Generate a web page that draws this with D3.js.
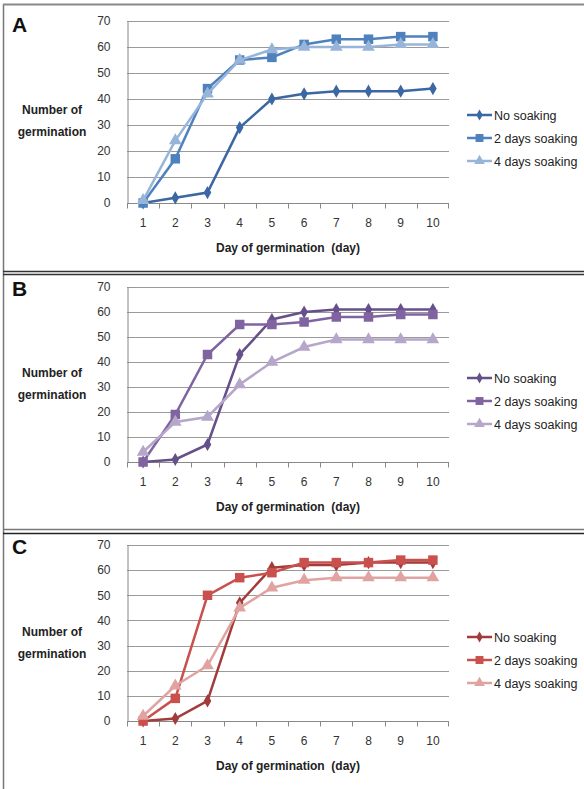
<!DOCTYPE html>
<html>
<head>
<meta charset="utf-8">
<script src="https://cdn.jsdelivr.net/npm/d3@7"></script>
<style>
  body { margin: 0; background: #fff; }
  svg { display: block; font-family: "Liberation Sans", Arial, sans-serif; }
</style>
</head>
<body>
<svg id="chart" width="584" height="789"></svg>
<script>
// days on the x axis
const days = [1, 2, 3, 4, 5, 6, 7, 8, 9, 10];
const seriesNames = ["No soaking", "2 days soaking", "4 days soaking"];
const yTicks = [0, 10, 20, 30, 40, 50, 60, 70];

// panel A
const aNoSoak = [0, 2, 4, 29, 40, 42, 43, 43, 43, 44];
const a2Days  = [0, 17, 44, 55, 56, 61, 63, 63, 64, 64];
const a4Days  = [1, 24, 42, 55, 59, 60, 60, 60, 61, 61];
// panel B
const bNoSoak = [0, 1, 7, 43, 57, 60, 61, 61, 61, 61];
const b2Days  = [0, 19, 43, 55, 55, 56, 58, 58, 59, 59];
const b4Days  = [4, 16, 18, 31, 40, 46, 49, 49, 49, 49];
// panel C
const cNoSoak = [0, 1, 8, 47, 61, 62, 62, 63, 63, 63];
const c2Days  = [0, 9, 50, 57, 59, 63, 63, 63, 64, 64];
const c4Days  = [2, 14, 22, 45, 53, 56, 57, 57, 57, 57];

let panels = [
    {label: "A", series: [aNoSoak, a2Days, a4Days], colors: ["#3b67a2", "#4f81bd", "#98b5d9"],
     top: 21, bottom: 203, legendY: 115},
    {label: "B", series: [bNoSoak, b2Days, b4Days], colors: ["#66508a", "#8064a2", "#b5a6ca"],
     top: 287, bottom: 462, legendY: 378},
    {label: "C", series: [cNoSoak, c2Days, c4Days], colors: ["#a33b3b", "#c9504d", "#e0a3a2"],
     top: 545, bottom: 721, legendY: 637}
];

let svg = d3.select("#chart");

// panel frames
svg.append("line").attr("x1", 3.5).attr("x2", 3.5).attr("y1", 4).attr("y2", 789)
    .attr("stroke", "#777").attr("stroke-width", 1.5);
svg.append("line").attr("x1", 3).attr("x2", 584).attr("y1", 4.5).attr("y2", 4.5)
    .attr("stroke", "#888").attr("stroke-width", 2);
[[271, "#333"], [274, "#333"], [529, "#777"], [533, "#222"]].forEach(([y, c]) => {
    svg.append("line").attr("x1", 3).attr("x2", 584).attr("y1", y + 0.5).attr("y2", y + 0.5)
        .attr("stroke", c).attr("stroke-width", 1.5);
});

let left = 127, right = 449;

panels.forEach((p) => {
    let g = svg.append("g");

    let x = d3.scaleBand().domain(days).range([left, right]);
    let y = d3.scaleLinear().domain([0, 70]).range([p.bottom, p.top]);

    // gridlines
    g.selectAll(".grid").data(yTicks.slice(1)).enter().append("line")
        .attr("x1", left).attr("x2", right)
        .attr("y1", (d) => Math.round(y(d)) + 0.5).attr("y2", (d) => Math.round(y(d)) + 0.5)
        .attr("stroke", "#9a9a9a").attr("stroke-width", 1);

    // y axis
    let yAxis = g.append("g")
        .attr("transform", "translate(" + (left + 0.5) + ",0)")
        .call(d3.axisLeft(y).tickValues(yTicks).tickSize(0).tickPadding(17));
    yAxis.select(".domain").attr("stroke", "#888");
    yAxis.selectAll("text").attr("font-size", 12).attr("fill", "#333");

    // x axis with ticks at category boundaries
    let xb = Math.round(p.bottom) + 0.5;
    g.append("line").attr("x1", left).attr("x2", right).attr("y1", xb).attr("y2", xb)
        .attr("stroke", "#888");
    g.selectAll(".xt").data(days).enter().append("line")
        .attr("x1", (d) => Math.round(x(d)) + 0.5).attr("x2", (d) => Math.round(x(d)) + 0.5)
        .attr("y1", xb).attr("y2", xb + 5).attr("stroke", "#888");
    g.append("line").attr("x1", right - 0.5).attr("x2", right - 0.5)
        .attr("y1", xb).attr("y2", xb + 5).attr("stroke", "#888");
    g.selectAll(".xl").data(days).enter().append("text")
        .attr("x", (d) => x(d) + x.bandwidth() / 2)
        .attr("y", p.bottom + 24)
        .attr("text-anchor", "middle").attr("font-size", 12).attr("fill", "#333")
        .text((d) => d);

    // axis titles
    g.append("text").attr("x", (left + right) / 2).attr("y", p.bottom + 49)
        .attr("text-anchor", "middle").attr("font-size", 12).attr("font-weight", "bold")
        .attr("fill", "#222").attr("xml:space", "preserve").text("Day of germination  (day)");
    let yt = g.append("text").attr("text-anchor", "middle").attr("font-size", 12)
        .attr("font-weight", "bold").attr("fill", "#222");
    yt.append("tspan").attr("x", 52).attr("y", p.legendY - 1).text("Number of");
    yt.append("tspan").attr("x", 52).attr("y", p.legendY + 21).text("germination");

    // panel letter
    g.append("text").attr("x", 12).attr("y", p.top + (p.label === "A" ? 11 : 9))
        .attr("font-size", 21).attr("font-weight", "bold").attr("fill", "#111")
        .text(p.label);

    let line = d3.line()
        .x((d, i) => x(days[i]) + x.bandwidth() / 2)
        .y((d) => y(d));

    let symbols = [d3.symbolDiamond, d3.symbolSquare, d3.symbolTriangle];
    let sizes = [50, 90, 70];

    p.series.forEach((vals, k) => {
        g.append("path").datum(vals)
            .attr("fill", "none").attr("stroke", p.colors[k]).attr("stroke-width", 2.5)
            .attr("d", line);
        g.selectAll(".m" + k).data(vals).enter().append("path")
            .attr("transform", (d, i) => "translate(" + (x(days[i]) + x.bandwidth() / 2) + "," + y(d) + ")")
            .attr("d", d3.symbol().type(symbols[k]).size(sizes[k]))
            .attr("fill", p.colors[k]);

        // legend entry
        let ly = p.legendY + k * 23;
        g.append("line").attr("x1", 467).attr("x2", 492).attr("y1", ly).attr("y2", ly)
            .attr("stroke", p.colors[k]).attr("stroke-width", 2.5);
        g.append("path").attr("transform", "translate(479.5," + ly + ")")
            .attr("d", d3.symbol().type(symbols[k]).size(sizes[k] * 0.7))
            .attr("fill", p.colors[k]);
        g.append("text").attr("x", 494).attr("y", ly + 4.5)
            .attr("font-size", 12.5).attr("fill", "#222").text(seriesNames[k]);
    });
});
</script>
</body>
</html>
